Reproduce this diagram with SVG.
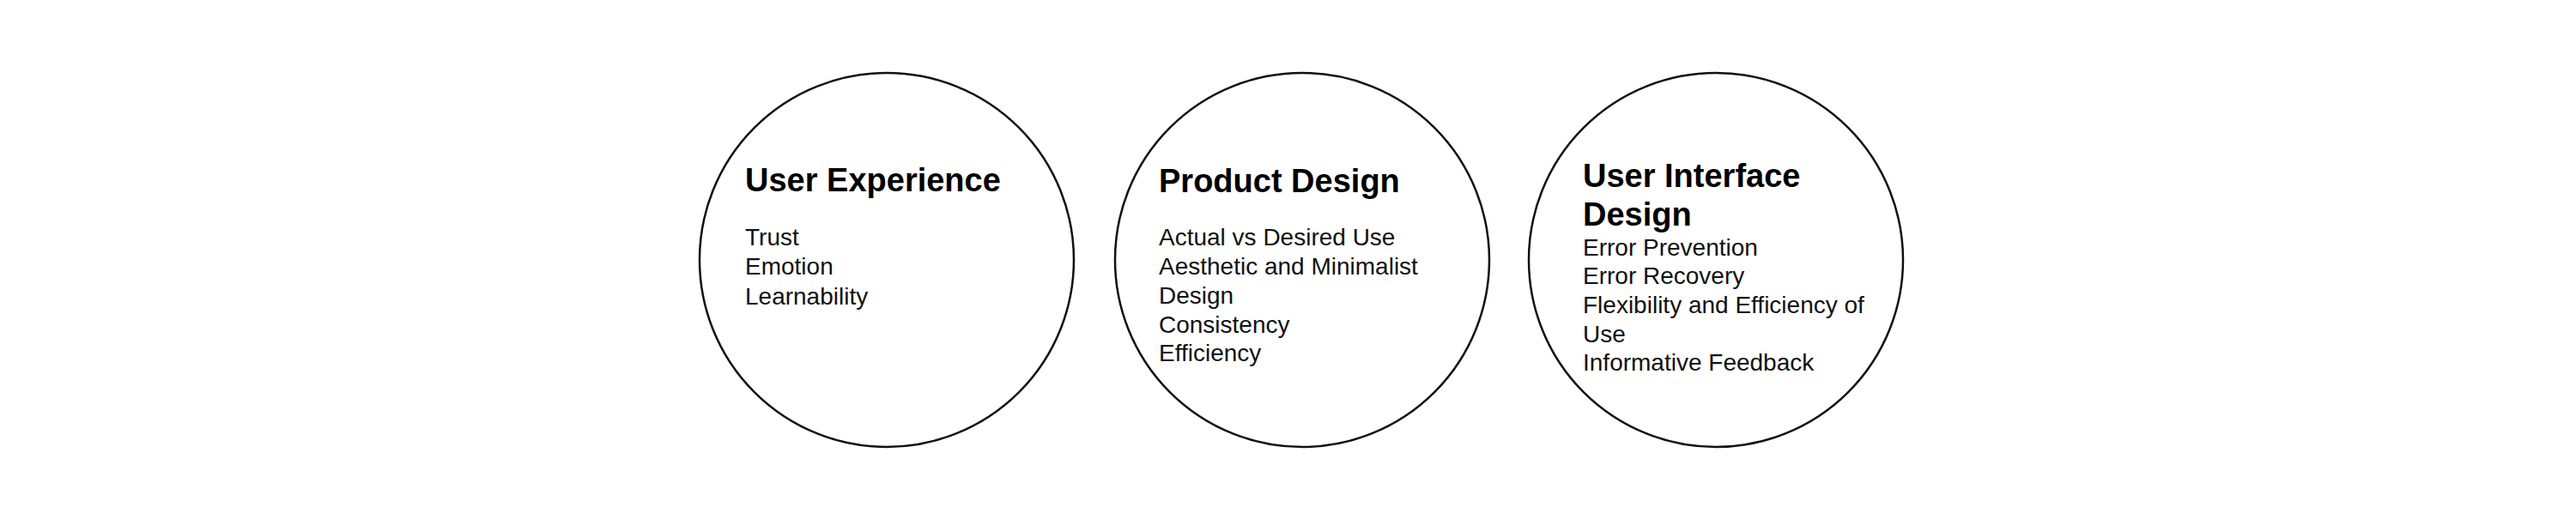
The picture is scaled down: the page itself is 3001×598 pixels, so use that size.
<svg xmlns="http://www.w3.org/2000/svg" width="3001" height="598" viewBox="0 0 3001 598">
<style>
.c{fill:#fff;stroke:#111;stroke-width:2.5}
.t{font-family:"Liberation Sans",Arial,sans-serif;font-weight:bold;font-size:38px;fill:#000}
.b{font-family:"Liberation Sans",Arial,sans-serif;font-size:28px;fill:#111}
</style>
<rect width="3001" height="598" fill="#fff"/>
<g id="connectors"></g>
<g id="user-experience">
<circle class="c" cx="1033" cy="303" r="218"/>
<text class="t" x="868" y="223">User Experience</text>
<text class="b" x="868" y="286">Trust</text>
<text class="b" x="868" y="320">Emotion</text>
<text class="b" x="868" y="355">Learnability</text>
</g>
<g id="product-design">
<circle class="c" cx="1517" cy="303" r="218"/>
<text class="t" x="1350" y="224">Product Design</text>
<text class="b" x="1350" y="286">Actual vs Desired Use</text>
<text class="b" x="1350" y="320">Aesthetic and Minimalist</text>
<text class="b" x="1350" y="354">Design</text>
<text class="b" x="1350" y="388">Consistency</text>
<text class="b" x="1350" y="421">Efficiency</text>
</g>
<g id="user-interface-design">
<circle class="c" cx="1999" cy="303" r="218"/>
<text class="t" x="1844" y="218">User Interface</text>
<text class="t" x="1844" y="263">Design</text>
<text class="b" x="1844" y="298">Error Prevention</text>
<text class="b" x="1844" y="331">Error Recovery</text>
<text class="b" x="1844" y="365">Flexibility and Efficiency of</text>
<text class="b" x="1844" y="399">Use</text>
<text class="b" x="1844" y="432">Informative Feedback</text>
</g>
</svg>
